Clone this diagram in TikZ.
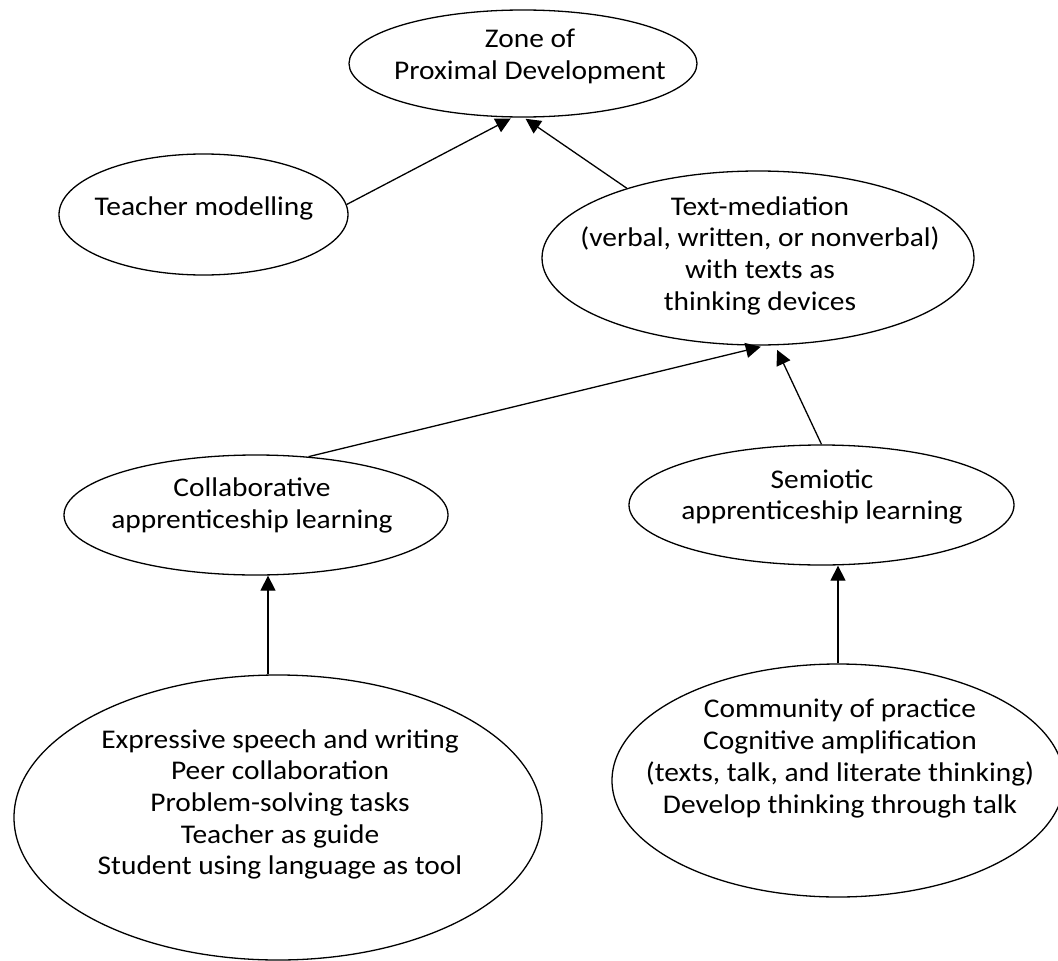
\documentclass[tikz,border=0pt]{standalone}
\usepackage{fontspec}
\setmainfont{Carlito}[FakeStretch=1.09]
\usetikzlibrary{shapes.geometric,arrows.meta}
\begin{document}
\begin{tikzpicture}[x=1pt,y=-1pt,
  oval/.style={draw=black,line width=1.3pt,shape=ellipse,inner sep=0pt},
  lbl/.style={align=center,inner sep=0pt,font=\fontsize{27}{31.7}\selectfont},
  arr/.style={line width=1.3pt,-{Triangle[length=15pt,width=15pt]}}]
\useasboundingbox (0,0) rectangle (1058,961);
% ellipses
\node[oval,minimum width=348pt,minimum height=107pt] (zpd) at (523,63.5) {};
\node[oval,minimum width=289pt,minimum height=121pt] (tm) at (203.5,214.5) {};
\node[oval,minimum width=432pt,minimum height=174pt] (med) at (758,258) {};
\node[oval,minimum width=384pt,minimum height=120pt] (col) at (256,515) {};
\node[oval,minimum width=385pt,minimum height=120pt] (sem) at (821.5,505) {};
\node[oval,minimum width=528pt,minimum height=285pt] (bl) at (278,817.5) {};
\node[oval,minimum width=452pt,minimum height=233pt] (br) at (838,780.5) {};
% texts
\node[lbl] (zpdt) at (530,56.5) {Zone of\\Proximal Development};
\node[lbl] (tmt) at (204,208) {Teacher modelling};
\node[lbl] (medt) at (760,255.5) {Text-mediation\\(verbal, written, or nonverbal)\\with texts as\\thinking devices};
\node[lbl] (colt) at (252,505.5) {Collaborative\\apprenticeship learning};
\node[lbl] (semt) at (822,497) {Semiotic\\apprenticeship learning};
\node[lbl] (blt) at (280,804.5) {Expressive speech and writing\\Peer collaboration\\Problem-solving tasks\\Teacher as guide\\Student using language as tool};
\node[lbl] (brt) at (840,758.5) {Community of practice\\Cognitive amplification\\(texts, talk, and literate thinking)\\Develop thinking through talk};
% connectors
\coordinate (cx) at (268,0);
\draw[arr,shorten >=2pt] (tm.4.5) -- (zpd.259);
\draw[arr,shorten >=2pt] (med.152) -- (zpd.271);
\draw[arr,shorten >=5pt] (col.48) -- (med.275.5);
\draw[arr,shorten >=5pt] (sem.north) -- (med.281);
\draw[arr] (bl.north -| cx) -- (col.south -| cx);
\draw[arr] (br.north) -- (sem.south -| br.north);
\end{tikzpicture}
\end{document}
